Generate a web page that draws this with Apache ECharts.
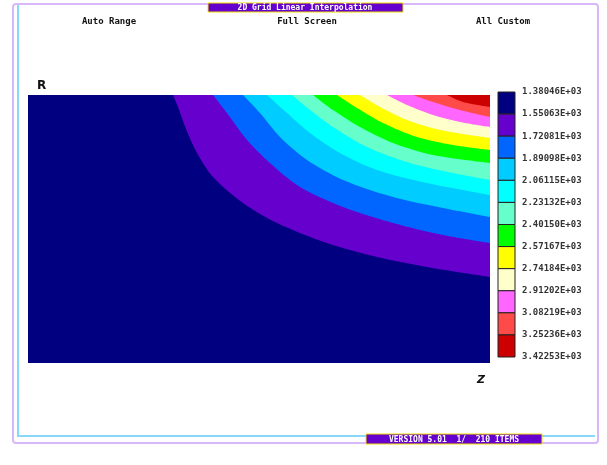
<!DOCTYPE html>
<html>
<head>
<meta charset="utf-8">
<script src="https://cdn.jsdelivr.net/npm/echarts@6/dist/echarts.min.js"></script>
<style>
  html, body { margin: 0; padding: 0; background: #ffffff; }
  #chart { width: 607px; height: 465px; }
</style>
</head>
<body>
<div id="chart"></div>
<script>
// Domain extent (Z along the bottom, R up the side)
const zMax = 46.2;
const rMax = 26.8;

// Contour level values (band boundaries, lowest first)
const levelLabels = [
  '1.38046E+03', '1.55063E+03', '1.72081E+03', '1.89098E+03',
  '2.06115E+03', '2.23132E+03', '2.40150E+03', '2.57167E+03',
  '2.74184E+03', '2.91202E+03', '3.08219E+03', '3.25236E+03',
  '3.42253E+03'
];

// Band colours, lowest band first
const bandColors = [
  '#000080', '#6600cc', '#0066ff', '#00ccff', '#00ffff', '#66ffcc',
  '#00ff00', '#ffff00', '#ffffcc', '#ff66ff', '#ff4a4a', '#cc0000'
];

// Contour lines [Z, R] separating band k from band k+1
const contour1 = [[14.5,26.8],[15.0,25.6],[15.8,23.4],[16.9,21.0],[18.5,18.6],[21.5,16.0],[24.9,14.0],[29.9,12.0],[34.9,10.6],[39.9,9.6],[46.2,8.6]];
const contour2 = [[18.5,26.8],[19.9,25.0],[21.9,22.3],[24.2,20.0],[27.2,17.6],[31.5,15.6],[36.5,14.0],[41.5,12.8],[46.2,12.0]];
const contour3 = [[21.5,26.8],[23.2,25.0],[25.2,22.6],[27.9,20.3],[31.5,18.3],[36.5,16.6],[41.5,15.5],[46.2,14.6]];
const contour4 = [[23.9,26.8],[25.9,25.0],[28.2,23.0],[31.2,21.0],[34.9,19.3],[39.9,18.0],[46.2,16.8]];
const contour5 = [[26.4,26.8],[28.2,25.3],[30.5,23.6],[33.9,21.6],[38.2,20.0],[42.5,19.0],[46.2,18.3]];
const contour6 = [[28.5,26.8],[30.5,25.3],[33.2,23.6],[36.5,22.0],[40.5,20.8],[46.2,20.0]];
const contour7 = [[30.9,26.8],[32.9,25.5],[35.5,24.0],[38.9,22.6],[42.5,21.8],[46.2,21.3]];
const contour8 = [[33.2,26.8],[35.2,25.6],[37.9,24.3],[41.2,23.3],[46.2,22.5]];
const contour9 = [[35.9,26.8],[37.9,25.8],[40.5,24.8],[43.2,24.1],[46.2,23.6]];
const contour10 = [[38.5,26.8],[40.5,26.1],[43.2,25.3],[46.2,24.6]];
const contour11 = [[41.9,26.8],[43.5,26.1],[46.2,25.6]];

const contours = [contour1, contour2, contour3, contour4, contour5, contour6,
                  contour7, contour8, contour9, contour10, contour11];

const headerItems = ['Auto Range', 'Full Screen', 'All Custom'];
const titleText = '2D Grid Linear Interpolation';
const footerText = 'VERSION 5.01  1/  210 ITEMS';

const chart = echarts.init(document.getElementById('chart'), null, { renderer: 'canvas' });

// Each band fills from its lower contour up to the top edge (R max)
const bandSeries = contours.map((pts, i) => ({
  type: 'line',
  data: pts,
  smooth: 0.3,
  symbol: 'none',
  silent: true,
  lineStyle: { width: 0 },
  areaStyle: { color: bandColors[i + 1], opacity: 1, origin: 'end' },
  z: 2 + i
}));

// Legend: colour boxes with level labels at the boundaries
const legX = 498, legTop = 92, legBottom = 357, legW = 17;
const boxH = (legBottom - legTop) / bandColors.length;
const legendGraphics = [];
bandColors.forEach((c, i) => {
  legendGraphics.push({
    type: 'rect',
    shape: { x: legX, y: legTop + i * boxH, width: legW, height: boxH },
    style: { fill: c, stroke: '#222222', lineWidth: 1 }
  });
});
levelLabels.forEach((t, i) => {
  legendGraphics.push({
    type: 'text',
    x: 522, y: legTop + i * boxH,
    style: {
      text: t, fill: '#333333',
      font: 'bold 9px "DejaVu Sans Mono", monospace',
      verticalAlign: 'middle', textAlign: 'left'
    }
  });
});

const headerX = [109, 307, 503];
const frameGraphics = [
  // outer lavender frame
  { type: 'rect', shape: { x: 13, y: 4, width: 585, height: 439, r: 3 },
    style: { fill: 'none', stroke: '#d8b8f8', lineWidth: 2 } },
  // inner light-blue rule
  { type: 'polyline', shape: { points: [[18, 5], [18, 436], [595, 436]] },
    style: { fill: 'none', stroke: '#88d8f8', lineWidth: 2 } },
  // title tab
  { type: 'rect', shape: { x: 208, y: 3, width: 195, height: 9 },
    style: { fill: '#6600cc', stroke: '#f0e000', lineWidth: 1 } },
  { type: 'text', x: 305, y: 8,
    style: { text: titleText, fill: '#ffffff', font: 'bold 8px "DejaVu Sans Mono", monospace',
             textAlign: 'center', verticalAlign: 'middle' } },
  // footer tab
  { type: 'rect', shape: { x: 366, y: 434, width: 176, height: 10 },
    style: { fill: '#6600cc', stroke: '#f0e000', lineWidth: 1 } },
  { type: 'text', x: 454, y: 439.5,
    style: { text: footerText, fill: '#ffffff', font: 'bold 8px "DejaVu Sans Mono", monospace',
             textAlign: 'center', verticalAlign: 'middle' } },
  // axis names
  { type: 'text', x: 37, y: 86,
    style: { text: 'R', fill: '#111111', font: 'bold 12px "DejaVu Sans", sans-serif',
             textAlign: 'left', verticalAlign: 'middle' } },
  { type: 'text', x: 477, y: 380,
    style: { text: 'Z', fill: '#111111', font: 'italic bold 11px "DejaVu Sans", sans-serif',
             textAlign: 'left', verticalAlign: 'middle' } }
].concat(headerItems.map((t, i) => ({
  type: 'text', x: headerX[i], y: 22,
  style: { text: t, fill: '#111111', font: 'bold 9px "DejaVu Sans Mono", monospace',
           textAlign: 'center', verticalAlign: 'middle' }
})));

chart.setOption({
  animation: false,
  backgroundColor: '#ffffff',
  grid: {
    left: 28, top: 95, width: 462, height: 268,
    show: true, backgroundColor: bandColors[0], borderWidth: 0
  },
  xAxis: {
    type: 'value', min: 0, max: zMax,
    axisLine: { show: false }, axisTick: { show: false },
    axisLabel: { show: false }, splitLine: { show: false }
  },
  yAxis: {
    type: 'value', min: 0, max: rMax,
    axisLine: { show: false }, axisTick: { show: false },
    axisLabel: { show: false }, splitLine: { show: false }
  },
  series: bandSeries,
  graphic: frameGraphics.concat(legendGraphics)
});
</script>
</body>
</html>
